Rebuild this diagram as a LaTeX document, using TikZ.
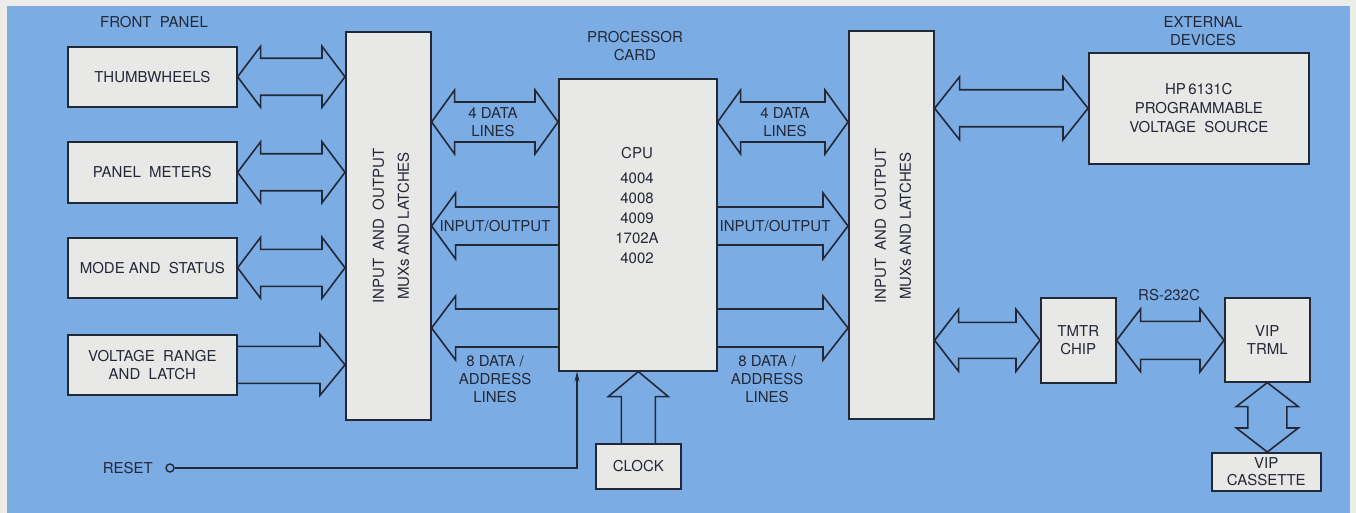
\documentclass[tikz,border=0pt]{standalone}
\usepackage{fontspec}
\setmainfont{TeX Gyre Heros}
\usetikzlibrary{calc,arrows.meta}
\definecolor{bgblue}{RGB}{124,172,228}
\definecolor{paper}{RGB}{236,236,232}
\definecolor{boxfill}{RGB}{232,232,230}
\definecolor{ink}{RGB}{35,40,55}
% double fat arrow, horizontal: left point, right point, shaft half, head half, head length
\newcommand\fatLR[5]{\path[fat] let \p1=(#1), \p2=(#2) in
  (\x1,\y1) -- (\x1+#5pt,\y1+#4pt) -- (\x1+#5pt,\y1+#3pt) -- (\x2-#5pt,\y1+#3pt) -- (\x2-#5pt,\y1+#4pt)
  -- (\x2,\y1) -- (\x2-#5pt,\y1-#4pt) -- (\x2-#5pt,\y1-#3pt) -- (\x1+#5pt,\y1-#3pt) -- (\x1+#5pt,\y1-#4pt) -- cycle;}
% single fat arrow pointing right: tail (left), tip (right)
\newcommand\fatR[5]{\path[fat] let \p1=(#1), \p2=(#2) in
  (\x1,\y1+#3pt) -- (\x2-#5pt,\y1+#3pt) -- (\x2-#5pt,\y1+#4pt) -- (\x2,\y1)
  -- (\x2-#5pt,\y1-#4pt) -- (\x2-#5pt,\y1-#3pt) -- (\x1,\y1-#3pt);}
% single fat arrow pointing left: tip (left), tail (right)
\newcommand\fatL[5]{\path[fat] let \p1=(#1), \p2=(#2) in
  (\x2,\y1+#3pt) -- (\x1+#5pt,\y1+#3pt) -- (\x1+#5pt,\y1+#4pt) -- (\x1,\y1)
  -- (\x1+#5pt,\y1-#4pt) -- (\x1+#5pt,\y1-#3pt) -- (\x2,\y1-#3pt);}
% single fat arrow pointing up: base (bottom), tip (top)
\newcommand\fatU[5]{\path[fat] let \p1=(#1), \p2=(#2) in
  (\x1-#3pt,\y1) -- (\x1-#3pt,\y2-#5pt) -- (\x1-#4pt,\y2-#5pt) -- (\x1,\y2)
  -- (\x1+#4pt,\y2-#5pt) -- (\x1+#3pt,\y2-#5pt) -- (\x1+#3pt,\y1);}
% double fat arrow vertical: top point, bottom point
\newcommand\fatUD[5]{\path[fat] let \p1=(#1), \p2=(#2) in
  (\x1,\y1) -- (\x1+#4pt,\y1-#5pt) -- (\x1+#3pt,\y1-#5pt) -- (\x1+#3pt,\y2+#5pt) -- (\x1+#4pt,\y2+#5pt)
  -- (\x1,\y2) -- (\x1-#4pt,\y2+#5pt) -- (\x1-#3pt,\y2+#5pt) -- (\x1-#3pt,\y1-#5pt) -- (\x1-#4pt,\y1-#5pt) -- cycle;}
\begin{document}
\begin{tikzpicture}[x=1pt,y=-1pt,
  blk/.style={draw=ink,fill=boxfill,line width=1.6pt,inner sep=0pt,anchor=north west,
    text=ink,font=\fontsize{15}{18}\selectfont,align=center},
  txt/.style={text=ink,font=\fontsize{15}{18}\selectfont,align=center,inner sep=0pt},
  fat/.style={draw=ink,line width=1.6pt,miter limit=10}]
\fill[paper] (0,0) rectangle (1356,513);
\fill[bgblue] (7,6) rectangle (1350,513);
\useasboundingbox (0,0) rectangle (1356,513);

% left column
\node[txt] (fronttxt) at (154,22) {FRONT\ \ PANEL};
\node[blk,minimum width=169pt,minimum height=60pt] (thumb) at (67,46) {THUMBWHEELS};
\node[blk,minimum width=169pt,minimum height=61pt] (panel) at (67,141) {PANEL\ \ METERS};
\node[blk,minimum width=169pt,minimum height=60pt] (mode) at (67,237) {MODE AND\ \ STATUS};
\node[blk,minimum width=169pt,minimum height=60pt] (volt) at (67,334) {VOLTAGE\ \ RANGE\\AND\ \ LATCH};

% muxes
\node[blk,minimum width=85pt,minimum height=388pt] (lmux) at (345,31) {};
\node[txt,rotate=90,font=\fontsize{15}{25}\selectfont] (lmuxtxt) at (391,226) {INPUT\ \ AND\ \ OUTPUT\\MUXs AND LATCHES};
\node[blk,minimum width=85pt,minimum height=388pt] (rmux) at (848,30) {};
\node[txt,rotate=90,font=\fontsize{15}{25}\selectfont] (rmuxtxt) at (893,226) {INPUT\ \ AND\ \ OUTPUT\\MUXs AND LATCHES};

% processor
\node[txt] (proctxt) at (635,46) {PROCESSOR\\CARD};
\node[blk,minimum width=158pt,minimum height=292pt] (cpu) at (558,78) {};
\node[txt,font=\fontsize{15}{20}\selectfont] (cputxt) at (637,206) {CPU\\[5pt]4004\\4008\\4009\\1702A\\4002};
\node[blk,minimum width=85pt,minimum height=45pt] (clock) at (595,443) {CLOCK};

% external devices
\node[txt] (exttxt) at (1203,31) {EXTERNAL\\DEVICES};
\node[blk,minimum width=220pt,minimum height=111pt,font=\fontsize{15}{19}\selectfont] (hp) at (1088,52) {HP\,6131C\\PROGRAMMABLE\\VOLTAGE\ \ SOURCE};
\node[blk,minimum width=75pt,minimum height=85pt] (tmtr) at (1040,297) {TMTR\\CHIP};
\node[blk,minimum width=85pt,minimum height=84pt] (vip) at (1224,297) {VIP\\TRML};
\node[blk,minimum width=109pt,minimum height=38pt,font=\fontsize{15}{17}\selectfont] (cass) at (1211,452) {VIP\\CASSETTE};
\node[txt] (rstxt) at (1169,295) {RS-232C};

% connector rows
\coordinate (y4d) at (0,122);
\coordinate (yio) at (0,226);
\coordinate (y8d) at (0,328);

% front panel arrows
\fatLR{thumb.east}{thumb.east -| lmux.west}{18.5}{30.5}{23}
\fatLR{panel.east}{panel.east -| lmux.west}{18.5}{30.5}{23}
\fatLR{mode.east}{mode.east -| lmux.west}{18.5}{30.5}{23}
\fatR{volt.east}{volt.east -| lmux.west}{18.5}{30.5}{25}

% processor arrows left
\fatLR{lmux.east |- y4d}{cpu.west |- y4d}{20}{32}{23}
\fatL{lmux.east |- yio}{cpu.west |- yio}{19}{33}{24}
\fatL{lmux.east |- y8d}{cpu.west |- y8d}{19}{32}{24}
% processor arrows right
\fatLR{cpu.east |- y4d}{rmux.west |- y4d}{20}{32}{23}
\fatR{cpu.east |- yio}{rmux.west |- yio}{19}{33}{25}
\fatR{cpu.east |- y8d}{rmux.west |- y8d}{19}{32}{25}

\node[txt] (l4d) at (493,122) {4 DATA\\LINES};
\node[txt] (r4d) at (785,122) {4 DATA\\LINES};
\node[txt] (lio) at (495,226) {INPUT/OUTPUT};
\node[txt] (rio) at (775,226) {INPUT/OUTPUT};
\node[txt] (l8d) at (495,379) {8 DATA /\\ADDRESS\\LINES};
\node[txt] (r8d) at (767,379) {8 DATA /\\ADDRESS\\LINES};

% clock
\fatU{clock.north}{clock.north |- cpu.south}{17}{30}{25}

% reset
\node[txt,anchor=east] (resettxt) at (153,468) {RESET};
\node[circle,draw=ink,line width=1.4pt,minimum size=8pt,inner sep=0pt] (rcirc) at (170,468) {};
\coordinate (rcorner) at (577,468);
\draw[ink,line width=1.4pt,-{Stealth[length=10pt,width=5pt]}] (rcirc.east) -- (rcorner) -- (rcorner |- cpu.south);

% external arrows
\fatLR{rmux.east |- hp.west}{hp.west}{18.5}{31.5}{25}
\fatLR{rmux.east |- tmtr.west}{tmtr.west}{18}{31}{24}
\fatLR{tmtr.east}{tmtr.east -| vip.west}{19}{31.5}{24}
\fatUD{vip.south}{vip.south |- cass.north}{19.5}{31}{24}
\end{tikzpicture}
\end{document}
